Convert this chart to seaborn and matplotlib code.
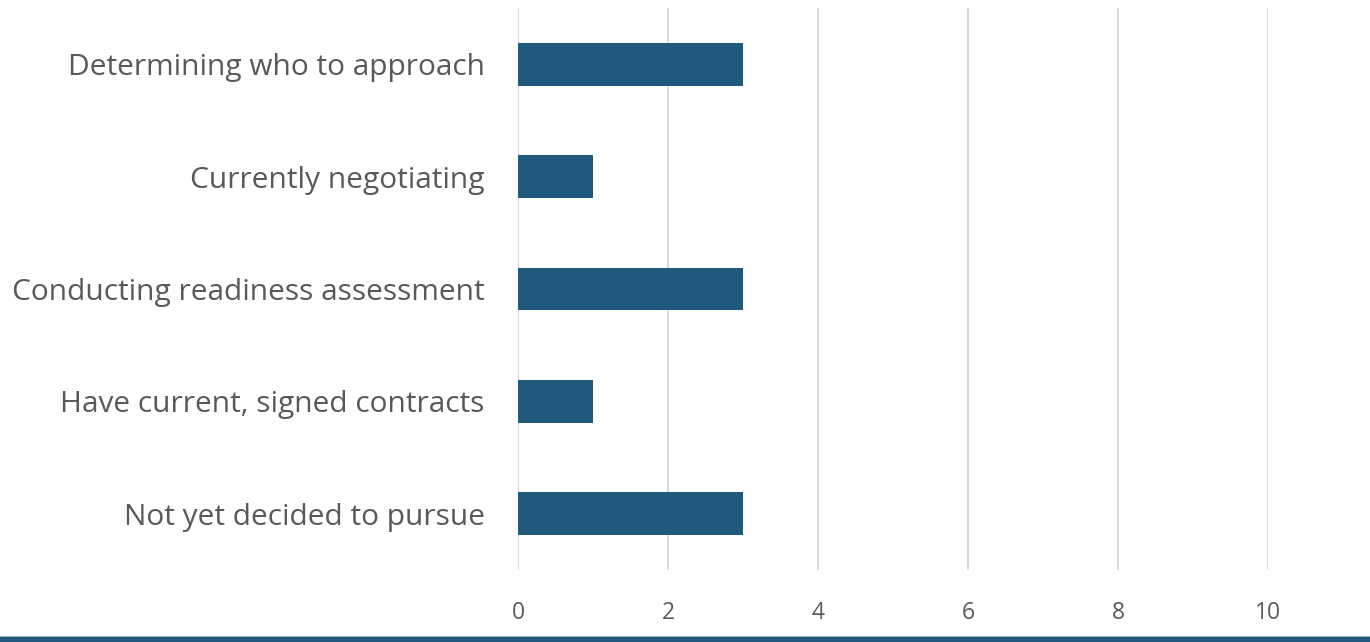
import matplotlib
matplotlib.use("Agg")
import matplotlib.pyplot as plt
import seaborn as sns
import pandas as pd
from matplotlib.patches import Rectangle

categories = [
    "Determining who to approach",
    "Currently negotiating",
    "Conducting readiness assessment",
    "Have current, signed contracts",
    "Not yet decided to pursue",
]
counts = [3, 1, 3, 1, 3]
x_ticks = [0, 2, 4, 6, 8, 10]

bar_color = "#1F5A7C"
text_color = "#595959"
grid_color = "#D9D9D9"

sns.set_theme(style="white")
plt.rcParams["font.family"] = ["Open Sans", "DejaVu Sans"]

df = pd.DataFrame({"status": categories, "count": counts})

fig = plt.figure(figsize=(13.7, 6.42), dpi=100)
ax = fig.add_axes([518 / 1370, 72 / 642, 750 / 1370, 562 / 642])

sns.barplot(data=df, x="count", y="status", order=categories, color=bar_color,
            width=0.38, saturation=1, linewidth=0, ax=ax, zorder=3)

ax.set_xlim(0, 10)
ax.set_ylim(len(categories) - 0.5, -0.5)
ax.set_xticks(x_ticks)
ax.set_xticklabels([str(t) for t in x_ticks])
ax.xaxis.grid(True, color=grid_color, linewidth=1.4, zorder=0)
ax.yaxis.grid(False)
for s in ax.spines.values():
    s.set_visible(False)
ax.tick_params(axis="x", length=0, pad=22, labelsize=16.5, labelcolor=text_color)
ax.tick_params(axis="y", length=0, pad=24, labelsize=21.5, labelcolor=text_color)
ax.set_xlabel("")
ax.set_ylabel("")

# bottom accent band
fig.add_artist(Rectangle((0, 0), 1, 5 / 642, transform=fig.transFigure,
                         facecolor=bar_color, edgecolor="none"))
fig.add_artist(Rectangle((0, 5 / 642), 1, 1 / 642, transform=fig.transFigure,
                         facecolor="#9FB6C4", edgecolor="none"))

fig.savefig("out.png", dpi=100)
